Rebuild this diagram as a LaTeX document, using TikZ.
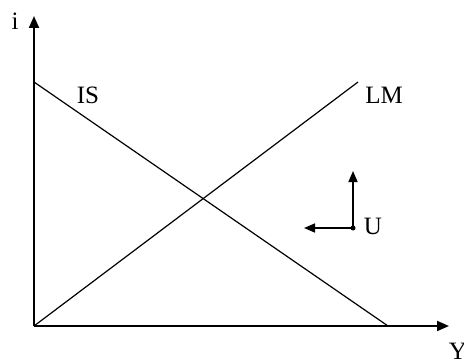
\documentclass[tikz,border=0pt]{standalone}
\usepackage{fontspec}
\setmainfont{Liberation Serif}
\usetikzlibrary{arrows.meta}
\begin{document}
\begin{tikzpicture}[x=0.5pt,y=-0.5pt,
  axis/.style={line width=1pt,-{Triangle[length=6pt,width=5pt]}},
  curve/.style={line width=0.6pt},
  movearrow/.style={line width=0.8pt,-{Triangle[length=5.5pt,width=4.5pt]}},
  lbl/.style={inner sep=0pt,font=\fontsize{12.5}{15}\selectfont}]
\useasboundingbox (0,0) rectangle (464,363);
\coordinate (O) at (34,326);
\coordinate (ytop) at (34,16);
\coordinate (xend) at (449,326);
\coordinate (isA) at (34,82);
\coordinate (isB) at (388,326);
\coordinate (lmB) at (358,82);
\coordinate (U) at (353,228);
\coordinate (Uup) at (353,171);
\coordinate (Uleft) at (304,228);
\draw[axis] (O) -- (ytop);
\draw[axis] (O) -- (xend);
\draw[curve] (isA) -- (isB);
\draw[curve] (O) -- (lmB);
\draw[movearrow] (U) -- (Uup);
\draw[movearrow] (U) -- (Uleft);
\fill (U) circle (2.5);
\node[lbl] (li) at (15,21) {i};
\node[lbl] (lY) at (458,351) {Y};
\node[lbl] (lIS) at (88,95) {IS};
\node[lbl] (lLM) at (384,95) {LM};
\node[lbl] (lU) at (373,226) {U};
\end{tikzpicture}
\end{document}
